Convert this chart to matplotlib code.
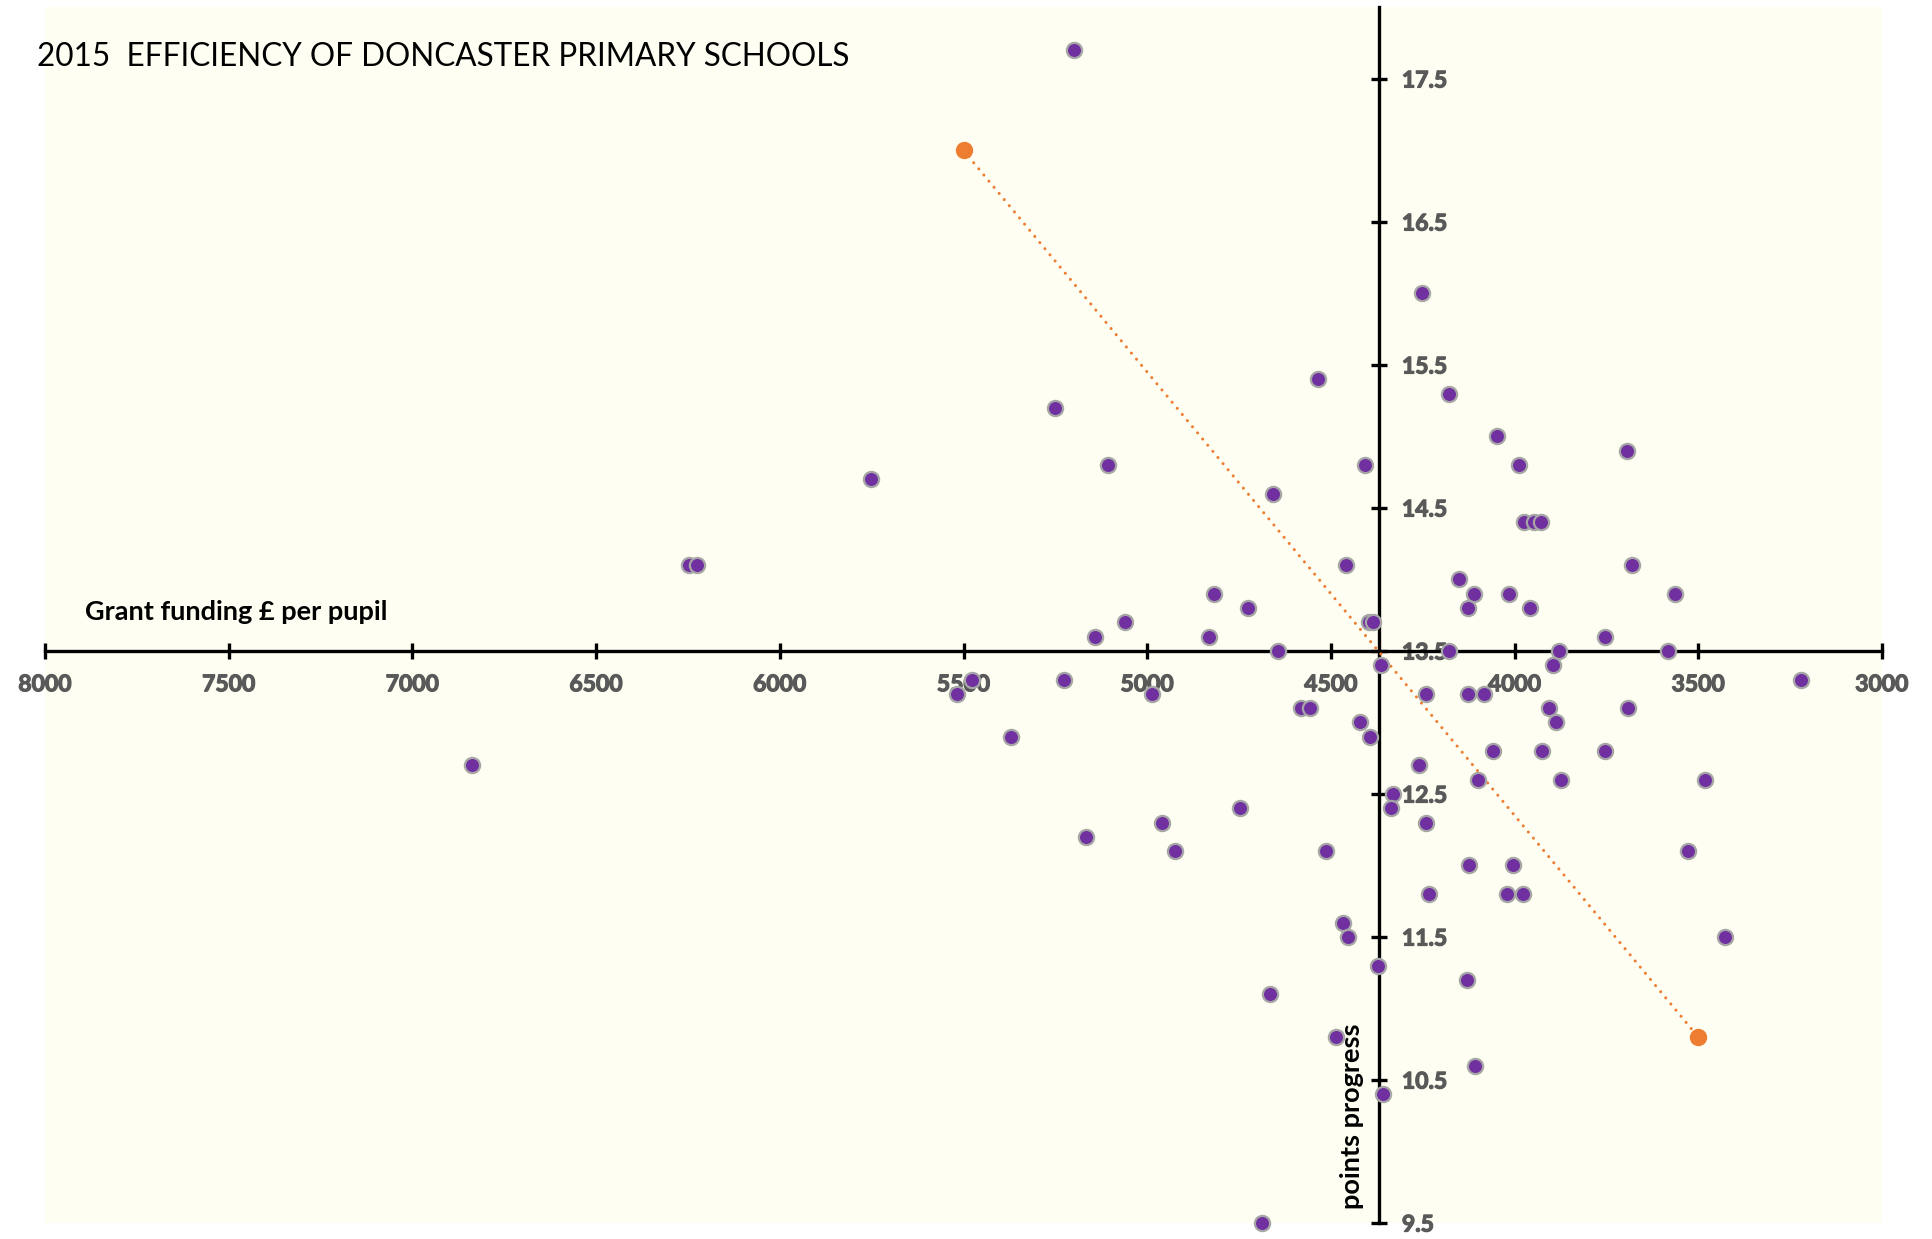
import matplotlib
matplotlib.use('Agg')
import matplotlib.pyplot as plt
import matplotlib.patheffects as pe

# ------------------------------------------------------------
# 2015 efficiency of Doncaster primary schools
# x = grant funding per pupil (GBP), y = points progress
# ------------------------------------------------------------
funding = [
    5198, 4253, 4534, 5251, 4179, 4048, 5752, 5107, 4408, 3989,
    3694, 4657, 3975, 3948, 3929, 6246, 6226, 4458, 3680, 4152,
    4110, 4016, 3564, 4818, 4725, 4128, 3959, 5060, 4395, 4385,
    5142, 4832, 3755, 4644, 4179, 3880, 3582, 4363, 3895, 5477,
    5226, 3221, 5517, 4986, 4240, 4128, 4084, 4582, 4557, 3906,
    3692, 4421, 3888, 5370, 4393, 4058, 3925, 3753, 6837, 4259,
    4099, 3875, 3483, 4332, 4336, 4748, 4961, 4242, 5166, 4924,
    4514, 3527, 4124, 4003, 4233, 4020, 3978, 4468, 4453, 3427,
    4372, 4130, 4667, 4485, 4108, 4357, 4688,
]
progress = [
    17.7, 16.0, 15.4, 15.2, 15.3, 15.0, 14.7, 14.8, 14.8, 14.8,
    14.9, 14.6, 14.4, 14.4, 14.4, 14.1, 14.1, 14.1, 14.1, 14.0,
    13.9, 13.9, 13.9, 13.9, 13.8, 13.8, 13.8, 13.7, 13.7, 13.7,
    13.6, 13.6, 13.6, 13.5, 13.5, 13.5, 13.5, 13.4, 13.4, 13.3,
    13.3, 13.3, 13.2, 13.2, 13.2, 13.2, 13.2, 13.1, 13.1, 13.1,
    13.1, 13.0, 13.0, 12.9, 12.9, 12.8, 12.8, 12.8, 12.7, 12.7,
    12.6, 12.6, 12.6, 12.5, 12.4, 12.4, 12.3, 12.3, 12.2, 12.1,
    12.1, 12.1, 12.0, 12.0, 11.8, 11.8, 11.8, 11.6, 11.5, 11.5,
    11.3, 11.2, 11.1, 10.8, 10.6, 10.4, 9.5,
]

# orange dotted reference line
trend_x = [5500, 3500]
trend_y = [17.0, 10.8]

x_ticks = [8000, 7500, 7000, 6500, 6000, 5500, 5000, 4500, 4000, 3500, 3000]
y_ticks = [9.5, 10.5, 11.5, 12.5, 13.5, 14.5, 15.5, 16.5, 17.5]

X_CROSS = 4370   # where the vertical axis crosses
Y_CROSS = 13.5   # where the horizontal axis crosses

PURPLE = '#7030A0'
ORANGE = '#ED7D31'
CREAM = '#FEFEF2'
GREY_TXT = '#595959'

plt.rcParams['font.family'] = ['Lato', 'DejaVu Sans']

fig = plt.figure(figsize=(19.33, 12.39), dpi=100)
fig.patch.set_facecolor('white')
ax = fig.add_axes([0.0233, 0.0129, 0.9503, 0.9811])
ax.set_facecolor(CREAM)

ax.plot(trend_x, trend_y, color=ORANGE, linewidth=2.2, linestyle=(0, (0.01, 2.6)),
        dash_capstyle='round', marker='o', markersize=12.5, markeredgewidth=0, zorder=4)
ax.scatter(funding, progress, s=120, color=PURPLE, edgecolors='#A6A6A6',
           linewidths=1.6, zorder=5, clip_on=False)

ax.set_xlim(8000, 3000)
ax.set_ylim(9.5, 18.0)
ax.set_xticks(x_ticks)
ax.set_xticklabels([str(v) for v in x_ticks])
ax.set_yticks(y_ticks)
ax.set_yticklabels([f'{v:.1f}' for v in y_ticks])

ax.spines['top'].set_visible(False)
ax.spines['left'].set_visible(False)
ax.spines['right'].set_position(('data', X_CROSS))
ax.spines['bottom'].set_position(('data', Y_CROSS))
for s in ('right', 'bottom'):
    ax.spines[s].set_linewidth(2.4)
    ax.spines[s].set_zorder(3)
ax.yaxis.set_ticks_position('right')
ax.xaxis.set_ticks_position('bottom')

ax.tick_params(axis='both', direction='inout', length=11.5, width=2.4,
               color='black', labelsize=16.5, labelcolor=GREY_TXT)
ax.tick_params(axis='x', pad=11)
ax.tick_params(axis='y', pad=11)

ax.text(7891, 13.77, 'Grant funding £ per pupil', fontsize=19.5, fontweight='bold',
        color='black', ha='left', va='center')
ax.text(4443, 9.6, 'points progress', fontsize=19.5, fontweight='bold',
        color='black', rotation=90, ha='center', va='bottom')

fig.text(37 / 1933, 1 - 57 / 1239, '2015  EFFICIENCY OF DONCASTER PRIMARY SCHOOLS',
         fontsize=22.7, color='black', ha='left', va='center')

# make the tick labels heavy like the original (bold + thin stroke)
fig.canvas.draw()
for lbl in ax.get_xticklabels() + ax.get_yticklabels():
    lbl.set_fontweight('bold')
    lbl.set_path_effects([pe.withStroke(linewidth=0.9, foreground=GREY_TXT)])

fig.savefig('out.png', dpi=100, facecolor='white')
